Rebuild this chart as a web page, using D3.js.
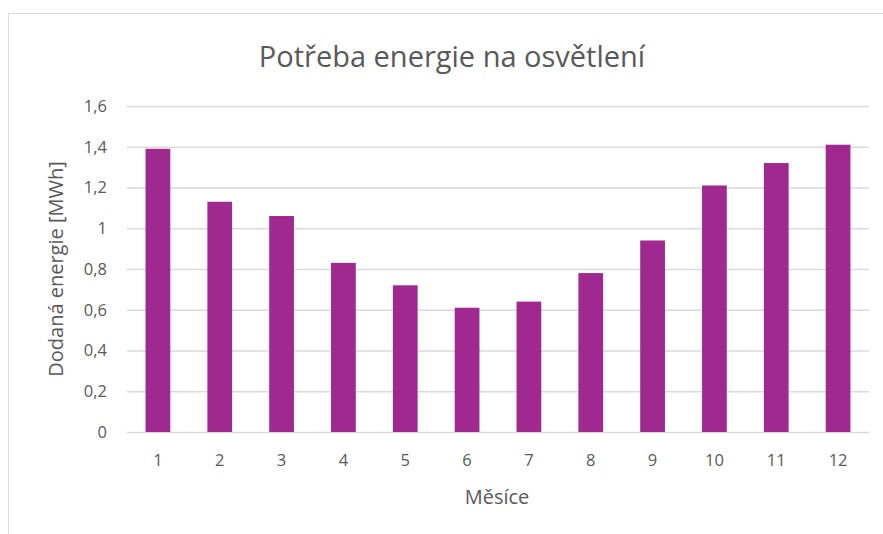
<!DOCTYPE html>
<html>
<head>
<meta charset="utf-8">
<script src="https://cdn.jsdelivr.net/npm/d3@7"></script>
<style>
  body { margin: 0; background: #fff; }
  text { font-family: "Open Sans", "Noto Sans", sans-serif; fill: #595959; }
</style>
</head>
<body>
<div id="chart"></div>
<script>
// monthly values
var months = ['1', '2', '3', '4', '5', '6', '7', '8', '9', '10', '11', '12']
var energy = [1.39, 1.13, 1.06, 0.83, 0.72, 0.61, 0.64, 0.78, 0.94, 1.21, 1.32, 1.41]
var yTicks = [0, 0.2, 0.4, 0.6, 0.8, 1, 1.2, 1.4, 1.6]

var title = 'Potřeba energie na osvětlení'
var xTitle = 'Měsíce'
var yTitle = 'Dodaná energie [MWh]'

var width = 883
var height = 534
var margin = { top: 106, right: 14, bottom: 102, left: 127 }
var plotW = width - margin.left - margin.right
var plotH = height - margin.top - margin.bottom

var svg = d3.select('#chart')
  .append('svg')
  .attr('width', width)
  .attr('height', height)

// chart frame
svg.append('path')
  .attr('d', 'M8.5,' + height + ' V13.5 H' + width)
  .attr('fill', 'none')
  .attr('stroke', '#d9d9d9')
  .attr('stroke-width', 1)

var x = d3.scaleBand()
  .domain(months)
  .range([0, plotW])
  .paddingInner(0.6)
  .paddingOuter(0.3)

var y = d3.scaleLinear()
  .domain([0, 1.6])
  .range([plotH, 0])

var g = svg.append('g')
  .attr('transform', 'translate(' + margin.left + ',' + margin.top + ')')

// gridlines + y labels
var yAxis = g.append('g')
  .call(d3.axisLeft(y)
    .tickValues(yTicks)
    .tickSize(-plotW)
    .tickPadding(20)
    .tickFormat(function (d) { return String(d).replace('.', ',') }))
yAxis.select('.domain').remove()
yAxis.selectAll('line').attr('stroke', '#d9d9d9').attr('stroke-width', 1.3)
yAxis.selectAll('text').attr('font-size', 16.5).attr('fill', '#595959')

// bars
g.selectAll('rect.bar')
  .data(energy)
  .enter()
  .append('rect')
  .attr('class', 'bar')
  .attr('x', function (d, i) { return x(months[i]) })
  .attr('y', function (d) { return y(d) })
  .attr('width', x.bandwidth())
  .attr('height', function (d) { return plotH - y(d) })
  .attr('fill', '#a0298f')

// x axis
var xAxis = g.append('g')
  .attr('transform', 'translate(0,' + plotH + ')')
  .call(d3.axisBottom(x).tickSize(0).tickPadding(22))
xAxis.select('.domain').remove()
xAxis.selectAll('text').attr('font-size', 16.5).attr('fill', '#595959')

// titles
svg.append('text')
  .attr('x', 452)
  .attr('y', 67)
  .attr('text-anchor', 'middle')
  .attr('font-size', 29)
  .text(title)

svg.append('text')
  .attr('x', 497)
  .attr('y', 504)
  .attr('text-anchor', 'middle')
  .attr('font-size', 20)
  .text(xTitle)

svg.append('text')
  .attr('transform', 'translate(63,' + (margin.top + plotH / 2) + ') rotate(-90)')
  .attr('text-anchor', 'middle')
  .attr('font-size', 20)
  .text(yTitle)
</script>
</body>
</html>
